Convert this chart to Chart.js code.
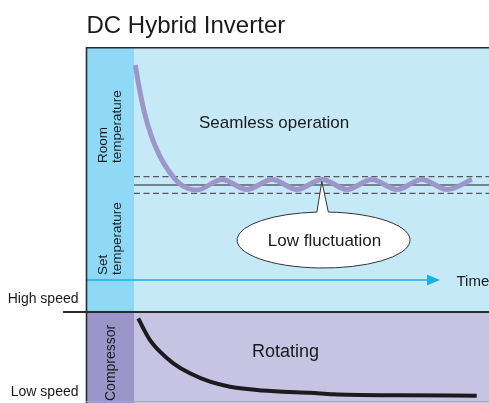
<!DOCTYPE html>
<html><head><meta charset="utf-8">
<script src="https://cdn.jsdelivr.net/npm/chart.js@4"></script>
<style>html,body{margin:0;padding:0;background:#fff}canvas{display:block}</style>
</head><body>
<canvas id="c" width="489" height="403"></canvas>
<script>
// Room temperature (relative to set temperature) over time (0..100)
const roomTime = [0.37, 1.49, 2.9, 4.79, 7.13, 9.94, 12.76, 15.2, 17.75, 24.8, 31.8, 38.9, 45.9, 53.0, 60.0, 67.0, 74.1, 81.1, 88.2, 95.2];
const roomTemp = [14.46, 11.69, 8.8, 6.02, 3.61, 1.6, 0.2, -0.42, -0.6, 0.66, -0.54, 0.66, -0.54, 0.66, -0.54, 0.66, -0.54, 0.66, -0.54, 0.66];
// Compressor speed (0 = bottom, 100 = high speed) over time
const compTime = [1.21, 2.62, 4.51, 7.32, 11.07, 15.77, 21.41, 27.04, 34.56, 41.97, 49.58, 56.06, 74.93, 96.54];
const compSpeed = [93.1, 82.1, 69.2, 56.4, 43.6, 32.6, 23.4, 17.9, 14.3, 12.4, 11.3, 9.6, 8.5, 8.0];
// Reference levels
const setTemp = 0;
const bandUpper = 1;
const bandLower = -1;
const highSpeed = 100;
const timeAxisLevel = -11.45;
const timeRange = [-13.52, 100];
const arrowTipTime = 86.2;
const calloutPeakIndex = 13;
const calloutCenter = {t: 53.4, temp: -6.63};
const titleText = 'DC Hybrid Inverter';

const FONT = '"Liberation Sans", Arial, Helvetica, sans-serif';

function drawV(ctx, lines, yBottom, size) {
  ctx.save();
  ctx.font = size + 'px ' + FONT;
  ctx.fillStyle = '#1a1a1a';
  ctx.textAlign = 'left';
  ctx.textBaseline = 'alphabetic';
  lines.forEach(l => {
    ctx.save();
    ctx.translate(l.x, yBottom);
    ctx.rotate(-Math.PI / 2);
    ctx.fillText(l.text, 0, 0);
    ctx.restore();
  });
  ctx.restore();
}

const diagram = {
  id: 'diagram',
  beforeDatasetsDraw(chart) {
    const {ctx, chartArea: a, scales: {x, yC}} = chart;
    const xs = x.getPixelForValue(0);
    const ySep = yC.getPixelForValue(highSpeed);
    ctx.save();
    ctx.fillStyle = '#c6e9f8';
    ctx.fillRect(a.left, a.top, a.right - a.left, ySep - a.top);
    ctx.fillStyle = '#8fd8f6';
    ctx.fillRect(a.left, a.top, xs - a.left, ySep - a.top);
    ctx.fillStyle = '#c7c3e2';
    ctx.fillRect(a.left, ySep, a.right - a.left, a.bottom - ySep);
    ctx.fillStyle = '#9c95c9';
    ctx.fillRect(a.left, ySep, xs - a.left, a.bottom - ySep);
    ctx.restore();
  },
  afterDatasetsDraw(chart) {
    const {ctx, chartArea: a, scales: {x, yT, yC}} = chart;
    const ySep = yC.getPixelForValue(highSpeed);
    ctx.save();
    // arrow head on time axis
    const tipX = x.getPixelForValue(arrowTipTime);
    const tipY = yT.getPixelForValue(timeAxisLevel);
    ctx.fillStyle = '#18b0ea';
    ctx.beginPath();
    ctx.moveTo(tipX, tipY);
    ctx.lineTo(tipX - 13, tipY - 5.5);
    ctx.lineTo(tipX - 13, tipY + 5.5);
    ctx.closePath();
    ctx.fill();
    // borders
    ctx.strokeStyle = '#2b2b2b';
    ctx.lineWidth = 1.6;
    ctx.beginPath();
    ctx.moveTo(a.left + 0.5, a.bottom);
    ctx.lineTo(a.left + 0.5, a.top + 0.8);
    ctx.lineTo(a.right, a.top + 0.8);
    ctx.stroke();
    ctx.lineWidth = 2;
    ctx.beginPath();
    ctx.moveTo(63, ySep);
    ctx.lineTo(a.right, ySep);
    ctx.stroke();
    ctx.strokeStyle = '#a8a6b4';
    ctx.lineWidth = 1;
    ctx.beginPath();
    ctx.moveTo(a.left, a.bottom - 1.5);
    ctx.lineTo(a.right, a.bottom - 1.5);
    ctx.stroke();
    // callout
    const cx = x.getPixelForValue(calloutCenter.t);
    const cy = yT.getPixelForValue(calloutCenter.temp);
    const rx = 86.5, ry = 28;
    const px = x.getPixelForValue(roomTime[calloutPeakIndex]) - 0.3;
    const py = yT.getPixelForValue(roomTemp[calloutPeakIndex]) + 2;
    const ang = xx => { const c = (xx - cx) / rx; return -Math.acos(Math.max(-1, Math.min(1, c))); };
    const tL = ang(px - 5), tR = ang(px + 6.5);
    ctx.beginPath();
    ctx.moveTo(px, py);
    ctx.lineTo(cx + rx * Math.cos(tR), cy + ry * Math.sin(tR));
    ctx.ellipse(cx, cy, rx, ry, 0, tR, tL + 2 * Math.PI, false);
    ctx.closePath();
    ctx.fillStyle = '#ffffff';
    ctx.fill();
    ctx.strokeStyle = '#333333';
    ctx.lineWidth = 1;
    ctx.stroke();
    // texts
    ctx.fillStyle = '#1a1a1a';
    ctx.textBaseline = 'alphabetic';
    ctx.textAlign = 'left';
    ctx.font = '24px ' + FONT;
    ctx.fillText(titleText, 86.5, 32.5);
    ctx.font = '17px ' + FONT;
    ctx.fillText('Seamless operation', 199, 127.5);
    ctx.textAlign = 'center';
    ctx.fillText('Low fluctuation', cx + 1, 245.5);
    ctx.textAlign = 'left';
    ctx.font = '18px ' + FONT;
    ctx.fillText('Rotating', 252, 356.5);
    ctx.font = '15px ' + FONT;
    ctx.fillText('Time', 456.5, 285.5);
    ctx.textAlign = 'right';
    ctx.font = '14px ' + FONT;
    ctx.fillText('High speed', 78.5, 302.5);
    ctx.fillText('Low speed', 78.5, 395.5);
    ctx.restore();
    drawV(ctx, [{text: 'Room', x: 107}, {text: 'temperature', x: 121}], 163, 13.5);
    drawV(ctx, [{text: 'Set', x: 107}, {text: 'temperature', x: 121}], 275, 13.5);
    drawV(ctx, [{text: 'Compressor', x: 114.5}], 401, 14);
  }
};

const yTmax = 16.63, yTmin = -26.27;
const yCmax = 391.2, yCmin = 0;

const pts = (xs, ys) => xs.map((v, i) => ({x: v, y: ys[i]}));

new Chart(document.getElementById('c'), {
  type: 'line',
  data: {
    datasets: [
      {data: pts(roomTime, roomTemp), yAxisID: 'yT', borderColor: '#9d96cb', borderWidth: 5, pointRadius: 0, cubicInterpolationMode: 'monotone'},
      {data: pts(compTime, compSpeed), yAxisID: 'yC', borderColor: '#1c1a1c', borderWidth: 4, pointRadius: 0, cubicInterpolationMode: 'monotone'},
      {data: pts([0, 100], [setTemp, setTemp]), yAxisID: 'yT', borderColor: '#222', borderWidth: 1, pointRadius: 0},
      {data: pts([0, 100], [bandUpper, bandUpper]), yAxisID: 'yT', borderColor: '#333', borderWidth: 1, borderDash: [6, 3.5], pointRadius: 0},
      {data: pts([0, 100], [bandLower, bandLower]), yAxisID: 'yT', borderColor: '#333', borderWidth: 1, borderDash: [6, 3.5], pointRadius: 0},
      {data: pts([timeRange[0], arrowTipTime - 3], [timeAxisLevel, timeAxisLevel]), yAxisID: 'yT', borderColor: '#18b0ea', borderWidth: 1.6, pointRadius: 0}
    ]
  },
  options: {
    responsive: false,
    animation: false,
    events: [],
    layout: {padding: {left: 86, top: 47, right: 0, bottom: 0}},
    plugins: {legend: {display: false}, tooltip: {enabled: false}, title: {display: false}},
    scales: {
      x: {type: 'linear', min: timeRange[0], max: timeRange[1], display: false},
      yT: {type: 'linear', min: yTmin, max: yTmax, display: false},
      yC: {type: 'linear', min: yCmin, max: yCmax, display: false}
    }
  },
  plugins: [diagram]
});
</script>
</body></html>
